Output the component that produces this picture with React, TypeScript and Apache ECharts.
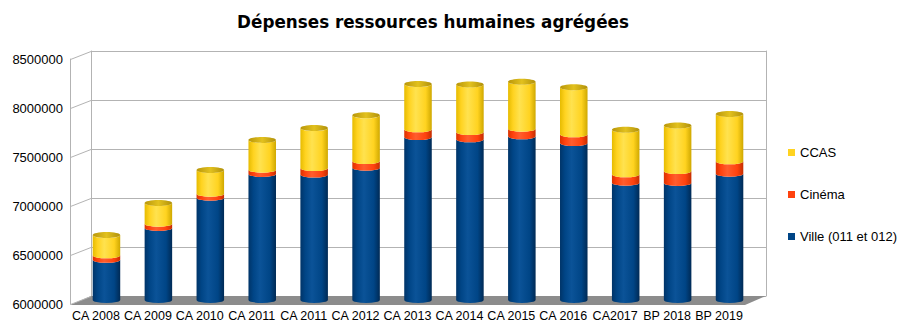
import React, { useEffect, useRef } from 'react';
import * as echarts from 'echarts';

// ---- data ----
const categories = ['CA 2008', 'CA 2009', 'CA 2010', 'CA 2011', 'CA 2011', 'CA 2012', 'CA 2013', 'CA 2014', 'CA 2015', 'CA 2016', 'CA2017', 'BP 2018', 'BP 2019'];
const ville = [6410000, 6735000, 7044000, 7286000, 7280000, 7350000, 7663000, 7640000, 7670000, 7602000, 7197000, 7194000, 7289000];
const cinema = [46000, 44000, 41000, 44000, 66000, 68000, 79000, 74000, 78000, 89000, 86000, 122000, 126000];
const ccas = [207000, 211000, 242000, 303000, 408000, 467000, 462000, 485000, 480000, 480000, 455000, 465000, 483000];
const yTicks = [6000000, 6500000, 7000000, 7500000, 8000000, 8500000];
const seriesNames = ['Ville (011 et 012)', 'Cinéma', 'CCAS'];
const legendOrder = ['CCAS', 'Cinéma', 'Ville (011 et 012)'];
const titleText = 'Dépenses ressources humaines agrégées';

// ---- layout ----
const W = 675;
const H = 245;
const BACK = { left: 91, top: 51 };
const MID = { left: 80.5, top: 55 };
const FRONT = { left: 70, top: 59 };
const BAR_RATIO = 0.53;
const RY = 3;
const FONT = 'Liberation Sans';
const GRID_COLOR = '#b3b3b3';

const palettes = [
  { base: '#004586', stops: ['#003468', '#004586', '#0b5398', '#004586', '#002a55'] },
  { base: '#ff420e', stops: ['#d93300', '#ff420e', '#ff5d2e', '#ff420e', '#c42e00'] },
  { base: '#ffd320', stops: ['#e6bb00', '#ffd320', '#ffe24f', '#ffd320', '#cfa800'] },
];

function grad(stops: string[]) {
  return new echarts.graphic.LinearGradient(0, 0, 1, 0, [
    { offset: 0, color: stops[0] },
    { offset: 0.18, color: stops[1] },
    { offset: 0.42, color: stops[2] },
    { offset: 0.78, color: stops[3] },
    { offset: 1, color: stops[4] },
  ]);
}

function makeRender(idx: number, withCap: boolean) {
  const fill = grad(palettes[idx].stops);
  const capFill = new echarts.graphic.LinearGradient(0, 0, 1, 0, [
    { offset: 0, color: '#b8960a' },
    { offset: 0.5, color: '#e2c11e' },
    { offset: 1, color: '#b0900a' },
  ]);
  return (params: any, api: any) => {
    const i = api.value(0);
    const b = api.value(1);
    const t = api.value(2);
    const p0 = api.coord([i, b]);
    const p1 = api.coord([i, t]);
    const w = api.size([1, 0])[0] * BAR_RATIO;
    const rx = w / 2;
    const x0 = p0[0] - rx;
    const x1 = p0[0] + rx;
    const yB = p0[1];
    const yT = p1[1];
    const d = `M${x0} ${yT} L${x0} ${yB} A${rx} ${RY} 0 0 0 ${x1} ${yB} L${x1} ${yT} A${rx} ${RY} 0 0 1 ${x0} ${yT} Z`;
    const children: any[] = [{ type: 'path', shape: { pathData: d }, style: { fill } }];
    if (withCap) {
      children.push({ type: 'ellipse', shape: { cx: p0[0], cy: yT, rx, ry: RY }, style: { fill: capFill } });
    }
    return { type: 'group', children };
  };
}

export default function App() {
  const ref = useRef<HTMLDivElement>(null);
  useEffect(() => {
    document.body.style.margin = '0';
    const chart = echarts.init(ref.current!, null, { renderer: 'svg' });
    const seriesData = [
      ville.map((v, i) => [i, yTicks[0], v]),
      cinema.map((v, i) => [i, ville[i], ville[i] + v]),
      ccas.map((v, i) => [i, ville[i] + cinema[i], ville[i] + cinema[i] + v]),
    ];

    const backBottom = BACK.top + H;
    const frontBottom = FRONT.top + H;

    const yBase = { type: 'value', min: yTicks[0], max: yTicks[yTicks.length - 1], interval: 500000 };
    const grids = [BACK, MID, FRONT].map((g) => ({ left: g.left, top: g.top, width: W, height: H, outerBoundsMode: 'none' }));

    const option: any = {
      animation: false,
      textStyle: { fontFamily: FONT },
      grid: grids,
      xAxis: [
        { type: 'category', gridIndex: 0, data: categories, show: false },
        { type: 'category', gridIndex: 1, data: categories, show: false },
        {
          type: 'category', gridIndex: 2, data: categories,
          axisLine: { show: false }, axisTick: { show: false },
          axisLabel: { interval: 0, margin: 6, fontSize: 12.5, lineHeight: 12.5, color: '#000', fontFamily: FONT },
        },
      ],
      yAxis: [
        {
          ...yBase, gridIndex: 0,
          axisLine: { show: true, lineStyle: { color: GRID_COLOR } },
          axisTick: { show: false }, axisLabel: { show: false },
          splitLine: { show: true, lineStyle: { color: GRID_COLOR, width: 1 } },
        },
        {
          ...yBase, gridIndex: 0, position: 'right',
          axisLine: { show: true, lineStyle: { color: GRID_COLOR } },
          axisTick: { show: false }, axisLabel: { show: false }, splitLine: { show: false },
        },
        { ...yBase, gridIndex: 1, show: false, splitLine: { show: false } },
        {
          ...yBase, gridIndex: 2,
          axisLine: { show: true, lineStyle: { color: GRID_COLOR } },
          axisTick: { show: false }, splitLine: { show: false },
          axisLabel: { margin: 7, fontSize: 13, color: '#000', fontFamily: FONT, formatter: (v: number) => String(v) },
        },
      ],
      legend: {
        orient: 'vertical', left: 783, top: 141, itemGap: 29,
        icon: 'rect', itemWidth: 7, itemHeight: 7,
        data: legendOrder,
        textStyle: { fontSize: 13, color: '#000', fontFamily: FONT },
      },
      graphic: [
        {
          type: 'text', x: 433, y: 22, z: 10,
          style: { text: titleText, align: 'center', verticalAlign: 'middle', font: `bold 16.8px "DejaVu Sans"`, fill: '#000' },
        },
        {
          type: 'polygon', z: 1, silent: true,
          shape: { points: [[BACK.left, backBottom], [BACK.left + W, backBottom], [FRONT.left + W, frontBottom + 1], [FRONT.left, frontBottom + 1]] },
          style: { fill: '#8c8c8c' },
        },
      ],
      series: [
        {
          type: 'custom', name: 'wall', xAxisIndex: 0, yAxisIndex: 0, silent: true, z: 2,
          data: yTicks.map((v) => [0, v]),
          renderItem: (params: any, api: any) => {
            const y = api.coord([0, api.value(1)])[1];
            const x = params.coordSys.x;
            return {
              type: 'line',
              shape: { x1: x, y1: Math.round(y) + 0.5, x2: FRONT.left + 0.5, y2: Math.round(y + (FRONT.top - BACK.top)) + 0.5 },
              style: { stroke: GRID_COLOR, lineWidth: 1 },
            };
          },
        },
        ...seriesNames.map((name, s) => ({
          type: 'custom', name, xAxisIndex: 1, yAxisIndex: 2, z: 10,
          itemStyle: { color: palettes[s].base },
          encode: { x: 0, y: [1, 2] },
          data: seriesData[s],
          renderItem: makeRender(s, s === 2),
        })),
      ],
    };
    chart.setOption(option);
    return () => chart.dispose();
  }, []);
  return <div ref={ref} style={{ position: 'fixed', left: 0, top: 0, width: 898, height: 324, background: '#fff' }} />;
}
